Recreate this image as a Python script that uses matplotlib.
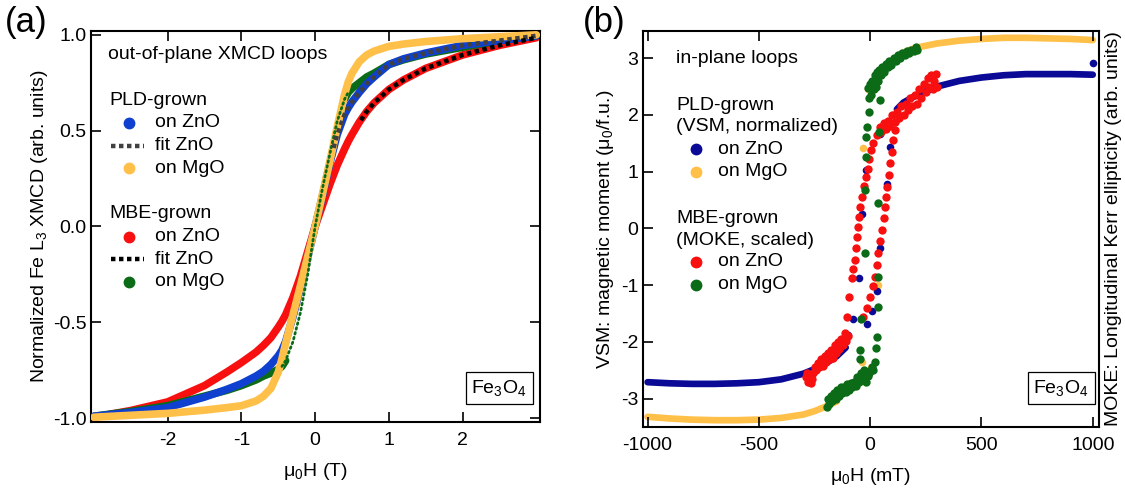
import numpy as np
import matplotlib
matplotlib.use('Agg')
import matplotlib.pyplot as plt

plt.rcParams['font.family'] = ['Liberation Sans', 'DejaVu Sans']
plt.rcParams['mathtext.fontset'] = 'custom'
plt.rcParams['mathtext.rm'] = 'Liberation Sans'
plt.rcParams['mathtext.it'] = 'Liberation Sans:italic'
plt.rcParams['mathtext.bf'] = 'Liberation Sans:bold'
plt.rcParams['axes.unicode_minus'] = False
plt.rcParams['font.size'] = 14

# ---------------- panel (a): out-of-plane XMCD loops (field in T) ----------------
a_H = [-3.0, -2.5, -2.0, -1.5, -1.2, -1.0, -0.8, -0.7, -0.6, -0.5, -0.45, -0.4, -0.3, -0.2, -0.1, 0.0,
       0.1, 0.2, 0.3, 0.4, 0.45, 0.5, 0.6, 0.7, 0.8, 1.0, 1.2, 1.5, 2.0, 2.5, 3.0]
a_mbe_zno = [-0.995, -0.96, -0.915, -0.83, -0.76, -0.71, -0.655, -0.62, -0.58, -0.525, -0.495, -0.46,
             -0.37, -0.26, -0.13, 0.0,
             0.11, 0.22, 0.32, 0.405, 0.445, 0.48, 0.545, 0.60, 0.645, 0.715, 0.765, 0.825, 0.895, 0.945, 0.985]
a_mbe_mgo = [-0.99, -0.965, -0.935, -0.885, -0.855, -0.83, -0.80, -0.78, -0.765, -0.745, -0.73, -0.70,
             -0.60, -0.45, -0.25, 0.0,
             0.20, 0.38, 0.55, 0.665, 0.70, 0.72, 0.75, 0.78, 0.80, 0.845, 0.87, 0.90, 0.935, 0.97, 0.995]
a_pld_zno = [-0.99, -0.97, -0.945, -0.89, -0.85, -0.82, -0.78, -0.755, -0.72, -0.675, -0.645, -0.60,
             -0.47, -0.32, -0.16, 0.0,
             0.16, 0.33, 0.48, 0.585, 0.62, 0.65, 0.70, 0.745, 0.78, 0.845, 0.875, 0.905, 0.945, 0.97, 0.995]
a_pld_mgo = [-0.995, -0.985, -0.975, -0.958, -0.945, -0.935, -0.91, -0.885, -0.845, -0.76, -0.69, -0.61,
             -0.46, -0.31, -0.155, 0.0,
             0.17, 0.34, 0.52, 0.69, 0.755, 0.80, 0.86, 0.895, 0.915, 0.94, 0.952, 0.965, 0.98, 0.99, 1.0]
a_fit_pld_H = [0.25, 0.3, 0.4, 0.45, 0.5, 0.6, 0.7, 0.8, 1.0, 1.2, 1.5, 2.0, 2.5, 3.0]
a_fit_pld_M = [0.41, 0.48, 0.585, 0.62, 0.65, 0.70, 0.745, 0.78, 0.845, 0.875, 0.905, 0.945, 0.97, 0.995]
a_fit_mbe_H = [0.62, 0.7, 0.8, 1.0, 1.2, 1.5, 2.0, 2.5, 3.0]
a_fit_mbe_M = [0.555, 0.60, 0.645, 0.715, 0.765, 0.825, 0.895, 0.945, 0.985]

# ---------------- panel (b): in-plane loops (field in mT) ----------------
# PLD on ZnO (VSM): dense saturated branches + sparse switching points
b_pzno_lo_H = [-1000, -900, -800, -700, -600, -500, -400, -300, -250, -200, -150, -110]
b_pzno_lo_M = [-2.71, -2.73, -2.74, -2.74, -2.73, -2.71, -2.66, -2.56, -2.48, -2.38, -2.25, -2.1]
b_pzno_hi_H = [120, 150, 200, 250, 300, 400, 500, 600, 700, 800, 900, 1000]
b_pzno_hi_M = [2.1, 2.22, 2.33, 2.42, 2.50, 2.60, 2.66, 2.70, 2.72, 2.72, 2.72, 2.71]
b_pzno_pt_H = [-19, -38, -50, -75, -98, -13, 10, 29, 44, 74, 89, 111, 44, 1000]
b_pzno_pt_M = [1.03, 0.26, -0.88, -1.6, -1.88, -1.68, -1.45, -1.1, -0.35, 0.79, 1.44, 1.87, 1.67, 2.92]
# PLD on MgO (VSM)
b_pmgo_lo_H = [-1000, -900, -800, -700, -600, -500, -400, -300, -250, -200, -150]
b_pmgo_lo_M = [-3.32, -3.35, -3.37, -3.38, -3.38, -3.37, -3.34, -3.28, -3.22, -3.14, -3.05]
b_pmgo_hi_H = [150, 200, 300, 400, 500, 600, 700, 800, 900, 1000]
b_pmgo_hi_M = [3.10, 3.18, 3.26, 3.31, 3.34, 3.36, 3.36, 3.35, 3.34, 3.32]
b_pmgo_pt_H = [-10, -31, 37, -38, -8, 5]
b_pmgo_pt_M = [2.45, 1.41, -1.0, -2.35, -2.6, -2.45]
# MBE on ZnO (MOKE, scaled)
b_mzno_H = [-290, -285, -280, -275, -268, -262, -255, -250, -242, -235, -228, -220, -212, -205, -198,
            -190, -182, -175, -168, -160, -152, -145, -138, -130, -122, -115, -108, -100,
            -106, -94, -83, -75, -68, -63, -58, -53, -49, -44, -38, -30, -19, -10, -4, 5, 14, 30, 44,
            -31, -15, -1, 12, 22, 30, 37, 45, 52, 60, 67, 72, 77, 83, 89, 96, 104, 111,
            50, 60, 70, 80, 90, 100, 110, 120, 130, 140, 150, 160, 170, 180, 190, 200, 210, 220,
            230, 240, 250, 258, 265, 272, 280, 288, 295, 299]
b_mzno_M = [-2.62, -2.55, -2.7, -2.6, -2.72, -2.66, -2.55, -2.45, -2.5, -2.38, -2.45, -2.3, -2.42, -2.25, -2.35,
            -2.2, -2.3, -2.15, -2.28, -2.05, -2.2, -2.0, -2.12, -1.95, -2.05, -1.85, -1.98, -1.9,
            -1.56, -1.2, -0.88, -0.72, -0.56, -0.35, -0.15, 0.02, 0.2, 0.38, 0.56, 0.75, 0.91, 1.05, 1.23, 1.38, 1.5, 1.65, 1.79,
            -1.56, -1.4, -1.2, -1.02, -0.85, -0.65, -0.44, -0.22, -0.03, 0.18, 0.38, 0.56, 0.73, 0.95, 1.15, 1.35, 1.56, 1.73,
            1.7, 1.85, 1.75, 1.9, 1.8, 2.0, 1.88, 2.05, 1.95, 2.15, 2.0, 2.2, 2.08, 2.3, 2.15, 2.35, 2.2, 2.45,
            2.3, 2.55, 2.4, 2.65, 2.5, 2.7, 2.45, 2.6, 2.72, 2.5]
# MBE on MgO (MOKE, scaled)
b_mmgo_H = [-196, -190, -185, -178, -170, -162, -155, -148, -140, -132, -125, -118, -110, -102, -95,
            -88, -80, -72, -65, -58, -50, -42, -35, -28, -20, -12, -5, 2, 8,
            -45, -46, -40, -23, -23, -19, -19, -13, -4,
            14, 20, 26, 29, 37, 33, 37, 40,
            -8, -5, 0, 5, 10, 15, 20, 25, 30, 35, 40, 48, 55, 62, 70, 78, 86, 95, 105, 115, 125,
            135, 145, 155, 165, 175, 185, 195, 205, 209, 44]
b_mmgo_M = [-3.15, -3.0, -3.1, -2.95, -3.05, -2.9, -3.0, -2.85, -2.95, -2.8, -2.9, -2.8, -2.88, -2.75, -2.85,
            -2.72, -2.8, -2.7, -2.78, -2.62, -2.7, -2.55, -2.65, -2.5, -2.7, -2.6, -2.55, -2.5, -2.45,
            -2.3, -2.15, -1.6, -0.44, 0.68, 1.26, 1.62, 1.79, 2.06,
            -2.5, -2.35, -2.1, -1.91, -1.38, -0.85, 0.44, 1.7,
            2.47, 2.3, 2.55, 2.35, 2.6, 2.45, 2.7, 2.5, 2.75, 2.6, 2.8, 2.7, 2.85, 2.75, 2.9, 2.85, 2.95, 2.88,
            3.0, 2.95, 3.05, 3.0, 3.1, 3.05, 3.12, 3.1, 3.15, 3.12, 3.2, 3.15, 2.26]

C_BLUE_A = '#1040d0'
C_NAVY = '#0a0a96'
C_RED = '#f81010'
C_YEL = '#ffc04a'
C_GRN = '#0b6b16'

fig = plt.figure(figsize=(11.25, 4.9), dpi=100)
axA = fig.add_axes([91/1125, 1-422/490, 449/1125, 391/490])
axB = fig.add_axes([642.7/1125, 1-427/490, 456.3/1125, 396/490])

# ---------- panel (a) ----------
aH = np.array(a_H)
a_mgo = np.array(a_mbe_mgo)
lw_a = 5.5
axA.plot(a_H, a_mbe_zno, color=C_RED, lw=lw_a, solid_capstyle='round', zorder=1)
neg = aH <= -0.4
pos = aH >= 0.4
axA.plot(aH[neg], a_mgo[neg], color=C_GRN, lw=lw_a, solid_capstyle='round', zorder=2)
axA.plot(aH[pos], a_mgo[pos], color=C_GRN, lw=lw_a, solid_capstyle='round', zorder=2)
axA.plot(a_H, a_pld_zno, color=C_BLUE_A, lw=lw_a, solid_capstyle='round', zorder=3)
axA.plot(a_H, a_pld_mgo, color=C_YEL, lw=lw_a, solid_capstyle='round', zorder=4)
mid = np.abs(aH) <= 0.45
axA.plot(aH[mid], a_mgo[mid], color=C_GRN, lw=2.0, ls=(0, (0.6, 1.2)), dash_capstyle='round', zorder=5)
axA.plot(a_fit_pld_H, a_fit_pld_M, color='#404040', lw=3.2, ls=(0, (1, 0.8)), zorder=6)
axA.plot(a_fit_mbe_H, a_fit_mbe_M, color='black', lw=3.2, ls=(0, (1, 0.8)), zorder=6)

axA.set_xlim(-3.04, 3.05)
axA.set_ylim(-1.02, 1.02)
axA.set_xticks([-2, -1, 0, 1, 2])
axA.set_yticks([-1.0, -0.5, 0.0, 0.5, 1.0])
axA.set_yticklabels(['-1.0', '-0.5', '0.0', '0.5', '1.0'])
axA.set_xticklabels(['-2', '-1', '0', '1', '2'])
axA.tick_params(direction='in', length=7, width=1.2, top=True, right=True, labelsize=14, pad=3)
axA.tick_params(axis='x', pad=7)
axA.set_xlabel('μ$_0$H (T)', fontsize=14, labelpad=9)
axA.set_ylabel('Normalized Fe L$_3$ XMCD (arb. units)', fontsize=14, labelpad=2)

tA = axA.transAxes
axA.text(0.038, 0.939, 'out-of-plane XMCD loops', transform=tA, va='center', ha='left')
axA.text(0.040, 0.822, 'PLD-grown', transform=tA, va='center', ha='left')
axA.text(0.040, 0.534, 'MBE-grown', transform=tA, va='center', ha='left')
leg_rows = [(0.765, 'marker', C_BLUE_A, 'on ZnO'), (0.706, 'line', '#404040', 'fit ZnO'),
            (0.649, 'marker', C_YEL, 'on MgO'), (0.474, 'marker', C_RED, 'on ZnO'),
            (0.416, 'line', 'black', 'fit ZnO'), (0.359, 'marker', C_GRN, 'on MgO')]
for y, kind, col, lab in leg_rows:
    if kind == 'marker':
        axA.plot([0.085], [y], 'o', color=col, ms=7.5, transform=tA, clip_on=False)
    else:
        axA.plot([0.044, 0.118], [y, y], color=col, lw=3.2, ls=(0, (1, 0.8)), transform=tA)
    axA.text(0.143, y, lab, transform=tA, va='center', ha='left')
axA.text(0.909, 0.087, 'Fe$_3$O$_4$', transform=tA, va='center', ha='center', fontsize=14,
         bbox=dict(boxstyle='square,pad=0.3', fc='white', ec='black', lw=0.9))

# ---------- panel (b) ----------
lw_b = 4.8
axB.plot(b_pzno_lo_H, b_pzno_lo_M, color=C_NAVY, lw=lw_b, solid_capstyle='round', zorder=2)
axB.plot(b_pzno_hi_H, b_pzno_hi_M, color=C_NAVY, lw=lw_b, solid_capstyle='round', zorder=2)
axB.scatter(b_pzno_pt_H, b_pzno_pt_M, s=30, color=C_NAVY, lw=0, zorder=2)
axB.plot(b_pmgo_lo_H, b_pmgo_lo_M, color=C_YEL, lw=lw_b, solid_capstyle='round', zorder=1)
axB.plot(b_pmgo_hi_H, b_pmgo_hi_M, color=C_YEL, lw=lw_b, solid_capstyle='round', zorder=1)
axB.scatter(b_pmgo_pt_H, b_pmgo_pt_M, s=30, color=C_YEL, lw=0, zorder=1)
axB.scatter(b_mzno_H, b_mzno_M, s=36, color=C_RED, lw=0, zorder=3)
axB.scatter(b_mmgo_H, b_mmgo_M, s=36, color=C_GRN, lw=0, zorder=4)

axB.set_xlim(-1022, 1028)
axB.set_ylim(-3.5, 3.48)
axB.set_xticks([-1000, -500, 0, 500, 1000])
axB.set_yticks([-3, -2, -1, 0, 1, 2, 3])
axB.tick_params(direction='in', length=7, width=1.2, top=True, right=False, labelsize=14, pad=3)
axB.tick_params(axis='x', pad=7)
axB.set_xlabel('μ$_0$H (mT)', fontsize=14, labelpad=9)
axB.set_ylabel('VSM: magnetic moment (μ$_0$/f.u.)', fontsize=14, labelpad=4)
tB = axB.transAxes
axB.text(1.031, 0.5, 'MOKE: Longitudinal Kerr ellipticity (arb. units)', transform=tB,
         rotation=90, va='center', ha='center', fontsize=14)
axB.text(0.073, 0.931, 'in-plane loops', transform=tB, va='center', ha='left')
axB.text(0.073, 0.813, 'PLD-grown', transform=tB, va='center', ha='left')
axB.text(0.073, 0.758, '(VSM, normalized)', transform=tB, va='center', ha='left')
axB.text(0.073, 0.527, 'MBE-grown', transform=tB, va='center', ha='left')
axB.text(0.073, 0.472, '(MOKE, scaled)', transform=tB, va='center', ha='left')
leg_rows_b = [(0.701, C_NAVY, 'on ZnO'), (0.645, C_YEL, 'on MgO'),
              (0.417, C_RED, 'on ZnO'), (0.359, C_GRN, 'on MgO')]
for y, col, lab in leg_rows_b:
    axB.plot([0.117], [y], 'o', color=col, ms=7.5, transform=tB)
    axB.text(0.164, y, lab, transform=tB, va='center', ha='left')
axB.text(0.917, 0.098, 'Fe$_3$O$_4$', transform=tB, va='center', ha='center', fontsize=14,
         bbox=dict(boxstyle='square,pad=0.3', fc='white', ec='black', lw=0.9))

for ax in (axA, axB):
    for s in ax.spines.values():
        s.set_linewidth(1.5)

fig.text(0.004, 0.955, '(a)', fontsize=25, va='center', ha='left')
fig.text(0.518, 0.955, '(b)', fontsize=25, va='center', ha='left')

fig.savefig('out.png', dpi=100)
